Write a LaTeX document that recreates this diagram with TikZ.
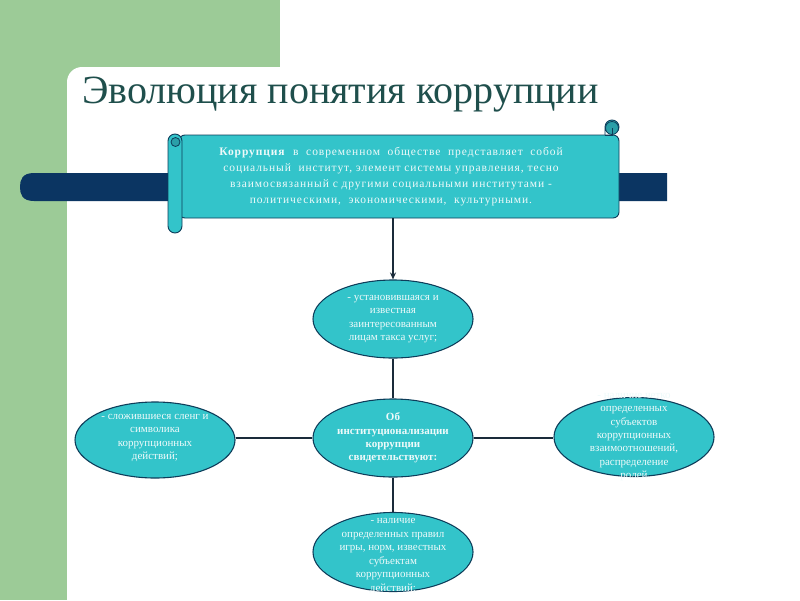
\documentclass[tikz,border=0pt]{standalone}
\usepackage{fontspec}
\setmainfont{Liberation Serif}
\usetikzlibrary{shapes.geometric,arrows.meta}
\definecolor{grn}{HTML}{9CCB97}
\definecolor{navy}{HTML}{0B3562}
\definecolor{tq}{HTML}{33C4CA}
\definecolor{tqd}{HTML}{2A9FA8}
\definecolor{edge}{HTML}{0E3D5A}
\definecolor{ttl}{HTML}{1F4F4C}
\definecolor{txt}{HTML}{EEFAFA}
\definecolor{lnk}{HTML}{1A2B3A}
\tikzset{
  oval/.style={ellipse, draw=edge, fill=tq, line width=1.1pt, minimum width=160pt,
    minimum height=78pt, inner sep=0pt},
  ovaltext/.style={align=center, text=txt, inner sep=0pt,
    font=\fontsize{11}{13.3}\selectfont},
  link/.style={draw=lnk, line width=1.8pt},
  rollpart/.style={draw=edge, fill=tq, line width=0.9pt},
}
\begin{document}
\begin{tikzpicture}[x=1pt,y=-1pt]
\useasboundingbox (0,0) rectangle (800,600);
\fill[white] (0,0) rectangle (800,600);
\fill[grn] (0,0) rectangle (280,67);
\fill[grn] (0,0) rectangle (67,600);
\fill[grn] (67,67) rectangle (90,90);
\fill[white, rounded corners=15pt] (67,67) rectangle (140,140);
% navy bar
\fill[navy] (667,173) -- (34,173) .. controls (22,173) and (20,180) .. (20,187)
  .. controls (20,194) and (22,201) .. (34,201) -- (667,201) -- cycle;
% title
\node[anchor=base west, text=ttl, font=\fontsize{40}{44}\selectfont, inner sep=0pt]
  (title) at (82,103) {Эволюция понятия коррупции};
% scroll body
\node[draw=edge, fill=tq, line width=0.9pt, rounded corners=6pt, minimum width=440pt,
  minimum height=83pt, inner sep=0pt] (scroll) at (399,176.5) {};
\node[inner sep=0pt, align=center, text=txt,
  font=\fontsize{11.5}{16}\selectfont\addfontfeature{LetterSpace=8}] (scrolltxt) at (391,176.5)
  {\textbf{Коррупция} \ в \ современном \ обществе \ представляет \ собой\\
   социальный \ институт, элемент системы управления, тесно\\
   взаимосвязанный с другими социальными институтами -\\
   политическими, \ экономическими, \ культурными.};
% top-right curl
\filldraw[rollpart] (605,135) -- (605,127) arc[start angle=180, end angle=-180, radius=7pt];
\filldraw[draw=edge, fill=tqd, line width=0.8pt] (612,128) circle (6.5pt);
\draw[edge, line width=0.8pt] (605,135) -- (612,135) -- (612,128);
% left roll
\filldraw[rollpart, rounded corners=7pt] (168,134) rectangle (182,233);
\filldraw[draw=edge, fill=tqd, line width=0.8pt] (175.5,142) circle (4.5pt);
% ellipses
\node[oval] (top) at (393,319) {};
\node[oval] (mid) at (393,438) {};
\node[oval, minimum height=76pt] (left) at (155,440) {};
\node[oval, minimum height=79pt] (right) at (634,437) {};
\node[oval, minimum height=79pt] (bot) at (393,552) {};
% connectors
\draw[draw=lnk, line width=1.1pt, -{Stealth[length=7pt,width=6pt]}] (scroll.south -| top.north) -- (top.north);
\draw[link] (top) -- (mid);
\draw[link] (mid) -- (bot);
\draw[link] (left.east |- mid) -- (mid);
\draw[link] (mid) -- (right.west |- mid);
\fill[tq] (mid) ellipse (79pt and 38pt);
\fill[tq] (top) ellipse (79pt and 38pt);
\fill[tq] (bot) ellipse (79pt and 38.5pt);
% texts
\node[ovaltext] (toptxt) at (393,319) {- установившаяся и\\известная\\заинтересованным\\лицам такса услуг;};
\node[ovaltext, font=\bfseries\fontsize{11}{13.3}\selectfont] (midtxt) at (393,438)
  {Об\\институционализации\\коррупции\\свидетельствуют:};
\node[ovaltext] (lefttxt) at (155,438) {- сложившиеся сленг и\\символика\\коррупционных\\действий;};
\node[ovaltext] (righttxt) at (634,437) {- наличие четко\\определенных\\субъектов\\коррупционных\\взаимоотношений,\\распределение\\ролей};
\node[ovaltext, font=\fontsize{11}{13.5}\selectfont] (bottxt) at (393,556)
  {- наличие\\определенных правил\\игры, норм, известных\\субъектам\\коррупционных\\действий;};
\end{tikzpicture}
\end{document}
